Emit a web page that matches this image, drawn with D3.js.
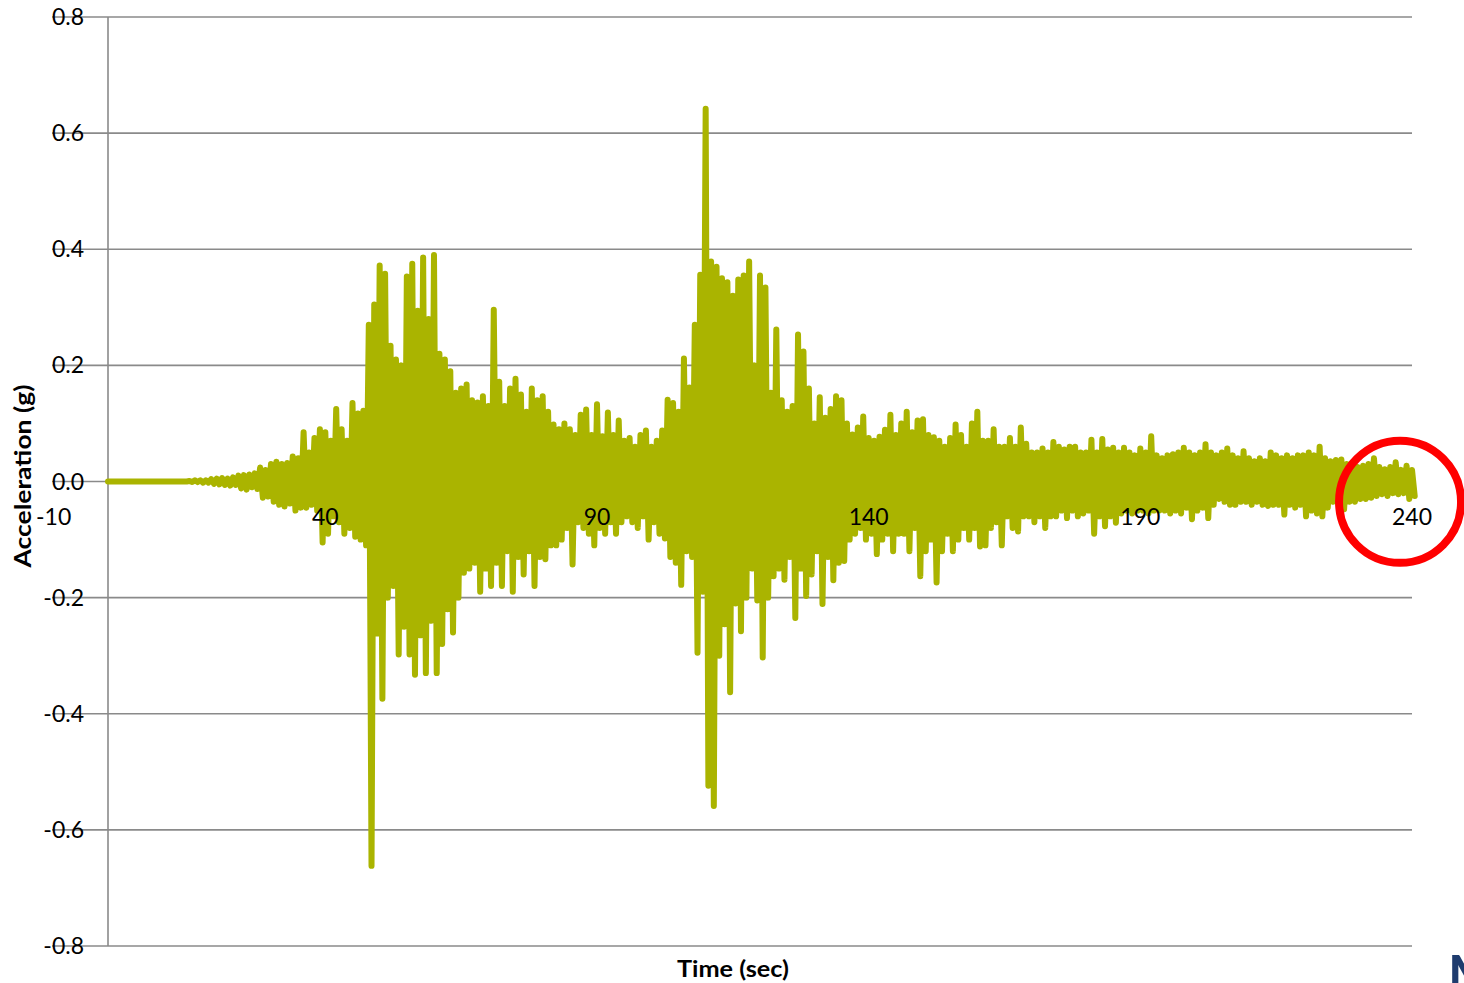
<!DOCTYPE html>
<meta charset="utf-8">
<style>
  body { margin: 0; background: #fff; }
  svg { display: block; font-family: Lato, "Open Sans", sans-serif; }
  .grid { stroke: #8a8a8a; stroke-width: 1.6; }
  .tick-label { font-size: 23px; fill: #000; }
  .axis-title { font-size: 23.5px; font-weight: bold; fill: #000; }
  .trace { fill: none; stroke: #aab400; stroke-width: 6; stroke-linejoin: round; stroke-linecap: round; }
</style>
<body>
<div id="chart"></div>
<script src="https://d3js.org/d3.v7.min.js"></script>
<script>
// chart size
var width = 1464,
    height = 983;

// sampling interval of the record (sec)
var dt = 0.5;

// acceleration (g), one value per sample
var accel = [
  0,0,0,0,0,0,0,0,0,0,
  0,0,0,0,0,0,0,0,0,0,
  0,0,0,0,0,0,0,0,0,0,
  0.001,-0.001,0.002,-0.001,0.002,-0.002,0.002,-0.002,0.004,-0.004,
  0.005,-0.005,0.006,-0.006,0.005,-0.007,0.007,-0.006,0.01,-0.012,
  0.011,-0.014,0.012,-0.01,0.014,-0.013,0.024,-0.028,0.02,-0.026,
  0.03,-0.035,0.034,-0.04,0.03,-0.043,0.032,-0.038,0.043,-0.05,
  0.04,-0.045,0.085,-0.045,0.05,-0.04,0.075,-0.05,0.09,-0.105,
  0.085,-0.09,0.07,-0.06,0.125,-0.07,0.09,-0.09,0.07,-0.08,
  0.135,-0.095,0.117,-0.1,0.122,-0.11,0.27,-0.662,0.305,-0.262,
  0.372,-0.374,0.358,-0.2,0.234,-0.18,0.21,-0.298,0.2,-0.25,
  0.353,-0.298,0.375,-0.333,0.294,-0.265,0.386,-0.33,0.28,-0.24,
  0.39,-0.33,0.22,-0.28,0.21,-0.22,0.19,-0.26,0.153,-0.2,
  0.16,-0.157,0.167,-0.15,0.14,-0.14,0.136,-0.19,0.147,-0.15,
  0.13,-0.18,0.296,-0.14,0.172,-0.18,0.13,-0.12,0.16,-0.19,
  0.177,-0.13,0.15,-0.16,0.12,-0.12,0.16,-0.18,0.14,-0.13,
  0.147,-0.134,0.12,-0.11,0.098,-0.11,0.09,-0.1,0.1,-0.08,
  0.09,-0.143,0.08,-0.07,0.115,-0.08,0.124,-0.09,0.08,-0.11,
  0.133,-0.08,0.078,-0.09,0.119,-0.07,0.08,-0.09,0.105,-0.07,
  0.07,-0.06,0.075,-0.07,0.06,-0.08,0.08,-0.06,0.088,-0.1,
  0.06,-0.07,0.07,-0.09,0.088,-0.098,0.141,-0.13,0.135,-0.14,
  0.12,-0.178,0.212,-0.12,0.162,-0.13,0.27,-0.295,0.356,-0.19,
  0.642,-0.524,0.379,-0.559,0.37,-0.3,0.35,-0.246,0.343,-0.363,
  0.32,-0.21,0.348,-0.258,0.355,-0.2,0.379,-0.15,0.2,-0.205,
  0.355,-0.303,0.334,-0.2,0.153,-0.163,0.262,-0.15,0.14,-0.169,
  0.12,-0.13,0.13,-0.235,0.253,-0.15,0.224,-0.197,0.16,-0.16,
  0.1,-0.12,0.145,-0.211,0.11,-0.13,0.125,-0.17,0.147,-0.14,
  0.14,-0.137,0.1,-0.1,0.081,-0.09,0.093,-0.08,0.112,-0.1,
  0.075,-0.09,0.07,-0.125,0.077,-0.1,0.089,-0.09,0.115,-0.12,
  0.08,-0.09,0.1,-0.09,0.12,-0.12,0.085,-0.08,0.105,-0.163,
  0.107,-0.12,0.08,-0.1,0.076,-0.174,0.07,-0.12,0.06,-0.09,
  0.075,-0.12,0.098,-0.1,0.08,-0.08,0.06,-0.1,0.1,-0.08,
  0.12,-0.112,0.07,-0.11,0.07,-0.08,0.09,-0.07,0.06,-0.11,
  0.06,-0.06,0.075,-0.08,0.06,-0.086,0.093,-0.06,0.065,-0.06,
  0.05,-0.07,0.05,-0.06,0.057,-0.08,0.05,-0.06,0.068,-0.06,
  0.06,-0.05,0.055,-0.063,0.06,-0.05,0.06,-0.06,0.05,-0.055,
  0.05,-0.05,0.072,-0.09,0.05,-0.06,0.073,-0.077,0.055,-0.06,
  0.058,-0.071,0.05,-0.055,0.058,-0.05,0.05,-0.055,0.045,-0.05,
  0.057,-0.05,0.05,-0.055,0.078,-0.05,0.045,-0.05,0.04,-0.05,
  0.045,-0.055,0.047,-0.05,0.05,-0.055,0.058,-0.045,0.05,-0.065,
  0.045,-0.05,0.05,-0.045,0.064,-0.063,0.05,-0.04,0.045,-0.03,
  0.05,-0.035,0.057,-0.04,0.045,-0.04,0.04,-0.035,0.052,-0.035,
  0.04,-0.04,0.035,-0.035,0.04,-0.04,0.035,-0.042,0.05,-0.04,
  0.045,-0.04,0.04,-0.057,0.045,-0.04,0.04,-0.045,0.045,-0.04,
  0.045,-0.06,0.05,-0.05,0.045,-0.055,0.06,-0.06,0.04,-0.045,
  0.035,-0.035,0.037,-0.04,0.038,-0.048,0.03,-0.035,0.027,-0.035,
  0.025,-0.03,0.027,-0.03,0.03,-0.028,0.04,-0.025,0.025,-0.022,
  0.021,-0.025,0.025,-0.02,0.033,-0.022,0.02,-0.02,0.027,-0.03,
  0.02,-0.025
];

// tick labels
var xTicks = [-10, 40, 90, 140, 190, 240];
var yTicks = [0.8, 0.6, 0.4, 0.2, 0.0, -0.2, -0.4, -0.6, -0.8];

// red circle drawn round the end of the record (data units)
var mark = { t: 237.8, g: -0.035 };

var x = d3.scaleLinear().domain([0, 240]).range([108, 1412]);
var y = d3.scaleLinear().domain([-0.8, 0.8]).range([946, 17]);

var svg = d3.select("#chart").append("svg")
    .attr("width", width)
    .attr("height", height);

// horizontal grid lines, they run under the labels on the left
svg.append("g")
  .selectAll("line")
    .data(yTicks)
  .enter().append("line")
    .attr("class", "grid")
    .attr("x1", 52)
    .attr("x2", x.range()[1])
    .attr("y1", function(d) { return y(d); })
    .attr("y2", function(d) { return y(d); });

// vertical axis line
svg.append("line")
    .attr("class", "grid")
    .attr("x1", x(0)).attr("x2", x(0))
    .attr("y1", y(0.8)).attr("y2", y(-0.8));

// y labels
svg.append("g")
  .selectAll("text")
    .data(yTicks)
  .enter().append("text")
    .attr("class", "tick-label")
    .attr("x", 84)
    .attr("y", function(d) { return y(d) + 8; })
    .attr("text-anchor", "end")
    .text(function(d) { return d.toFixed(1); });

// the trace
var line = d3.line()
    .x(function(d, i) { return x(i * dt); })
    .y(function(d) { return y(d); });

svg.append("path")
    .datum(accel)
    .attr("class", "trace")
    .attr("d", line);

// x labels sit on the zero line
svg.append("g")
  .selectAll("text")
    .data(xTicks)
  .enter().append("text")
    .attr("class", "tick-label")
    .attr("x", function(d) { return x(d); })
    .attr("y", y(0) + 43)
    .attr("text-anchor", "middle")
    .text(function(d) { return String(d); });

// axis titles
svg.append("text")
    .attr("class", "axis-title")
    .attr("transform", "translate(31,476) rotate(-90)")
    .attr("text-anchor", "middle")
    .attr("textLength", 183)
    .attr("lengthAdjust", "spacingAndGlyphs")
    .text("Acceleration (g)");

svg.append("text")
    .attr("class", "axis-title")
    .attr("x", 733)
    .attr("y", 977)
    .attr("text-anchor", "middle")
    .attr("textLength", 112)
    .attr("lengthAdjust", "spacingAndGlyphs")
    .text("Time (sec)");

// red circle annotation
svg.append("circle")
    .attr("cx", x(mark.t))
    .attr("cy", y(mark.g))
    .attr("r", 61)
    .attr("fill", "none")
    .attr("stroke", "#ff0000")
    .attr("stroke-width", 8);

// cut-off letter at the page corner, as in the source image
svg.append("text")
    .attr("x", 1448)
    .attr("y", 992)
    .attr("font-size", 52)
    .attr("font-weight", "bold")
    .attr("fill", "#1f3c6e")
    .text("M");
</script>
</body>
